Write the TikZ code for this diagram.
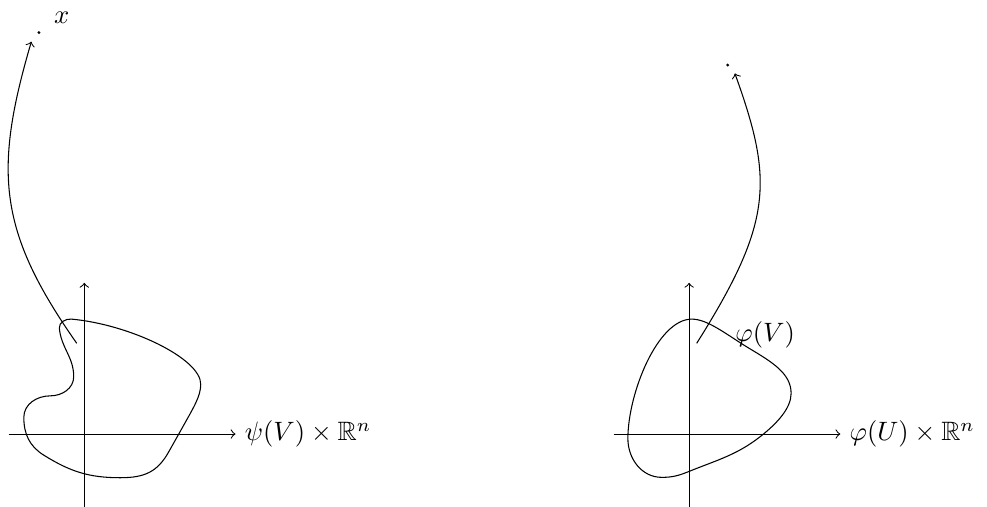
\documentclass[tikz,border=0pt]{standalone}
\usepackage{amssymb}
\begin{document}
\begin{tikzpicture}[
  axis/.style={->},
  mapping/.style={->},
  pt/.style={circle, fill, inner sep=0pt, minimum size=1.2pt}
]
\useasboundingbox (-1.115,-0.952) rectangle (11.94,5.741);
% left axes
\coordinate (Lxs) at (-1,0);
\coordinate (Lxe) at (2,0);
\coordinate (Lys) at (0,-1);
\coordinate (Lye) at (0,2);
\draw[axis] (Lxs) -- (Lxe) node[right] (lab1) {$\psi(V)\times\mathbb{R}^n$};
\draw[axis] (Lys) -- (Lye);
% left blob
\draw (-0.17,1.52) .. controls (0.6,1.45) and (1.54,1.0) .. (1.54,0.66)
  .. controls (1.54,0.50) and (1.45,0.36) .. (1.30,0.09)
  -- (1.12,-0.23)
  .. controls (0.97,-0.50) and (0.80,-0.578) .. (0.476,-0.578)
  to[out=180,in=-32] (-0.538,-0.278)
  to[out=148,in=-90] (-0.80,0.22)
  to[out=90,in=180] (-0.45,0.505)
  to[out=0,in=-90] (-0.14,0.76)
  to[out=90,in=-85] (-0.33,1.40)
  to[out=95,in=175] cycle;
% right axes
\coordinate (Rxs) at (7,0);
\coordinate (Rxe) at (10,0);
\coordinate (Rys) at (8,-1);
\coordinate (Rye) at (8,2);
\draw[axis] (Rxs) -- (Rxe) node[right] (lab2) {$\varphi(U)\times\mathbb{R}^n$};
\draw[axis] (Rys) -- (Rye);
% right blob
\draw (8.035,1.52) .. controls (8.25,1.52) and (8.50,1.31) .. (8.80,1.13)
  .. controls (9.10,0.95) and (9.349,0.80) .. (9.349,0.538)
  .. controls (9.349,0.338) and (9.158,0.147) .. (9.005,0.018)
  to[out=-140,in=22] (7.99,-0.498)
  to[out=-158,in=0] (7.638,-0.573)
  to[out=180,in=-90] (7.19,-0.06)
  .. controls (7.19,0.54) and (7.585,1.52) .. cycle;
\node (phiV) at (9.005,1.31) {$\varphi(V)$};
% points and mappings
\node[pt] (px) at (-0.60,5.31) {};
\node (xlab) at (-0.30,5.50) {$x$};
\node[pt] (py) at (8.51,4.88) {};
\coordinate (a1) at (-0.10,1.20);
\coordinate (a2) at (-0.70,5.19);
\coordinate (b1) at (8.10,1.20);
\coordinate (b2) at (8.605,4.77);
\draw[mapping] (a1) .. controls (-1.133,2.674) and (-1.208,3.464) .. (a2);
\draw[mapping] (b1) .. controls (9.113,2.807) and (9.113,3.358) .. (b2);
\end{tikzpicture}
\end{document}
